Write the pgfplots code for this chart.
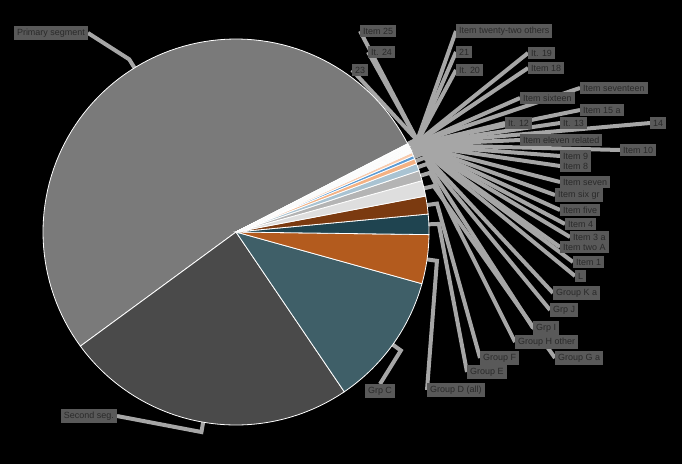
\documentclass[border=0pt]{standalone}
\usepackage{fontspec}
\setmainfont{Liberation Sans}
\usepackage{pgfplots}
\usepackage{pgfplotstable}
\pgfplotsset{compat=1.18}
\definecolor{cBig}{HTML}{7A7A7A}
\definecolor{cDark}{HTML}{4A4A4A}
\definecolor{cTeal}{HTML}{3F5F68}
\definecolor{cOrange}{HTML}{B35B1E}
\definecolor{cDTeal}{HTML}{1F4450}
\definecolor{cBrown}{HTML}{7B3A10}
\definecolor{cLGray}{HTML}{DEDEDE}
\definecolor{cGray}{HTML}{B4B4B4}
\definecolor{cLBlue}{HTML}{A9C3D2}
\definecolor{cPeach}{HTML}{F4B183}
\definecolor{cBlue}{HTML}{5B9BD5}
\definecolor{cPeachB}{HTML}{F8CBAD}
\definecolor{tA}{HTML}{E7E6E6}
\definecolor{tB}{HTML}{9DC3E6}
\definecolor{tC}{HTML}{C9C9C9}
\definecolor{tD}{HTML}{FFE699}
\definecolor{tE}{HTML}{BDD7EE}
\definecolor{leadc}{HTML}{A6A6A6}
\definecolor{labfill}{HTML}{595959}
\definecolor{labtext}{HTML}{2A2A2A}
\newcommand\labfont{\fontsize{9}{10}\selectfont}
\pgfplotstableread[col sep=comma]{
val,col,lx,ly,anc,lab
52.5,cBig,88,33,east,Primary segment
24.4,cDark,117,416,east,Second seg.
11.2,cTeal,380,384,north,Grp C
4.1,cOrange,427,390,west,Group D (all)
1.7,cDTeal,467,372,west,Group E
1.5,cBrown,480,358,west,Group F
1.3,cLGray,555,358,west,Group G a
0.86,cGray,515,342,west,Group H other
0.61,cLBlue,533,328,west,Grp I
0.44,cPeach,550,310,west,Grp J
0.28,cBlue,553,293,west,Group K a
0.28,cPeachB,575,276,west,L
0.032,tA,573,262,west,Item 1
0.032,tB,560,247,west,Item two A
0.032,tC,570,237,west,Item 3 a
0.032,tD,565,224,west,Item 4
0.032,tE,560,210,west,Item five
0.032,tA,555,195,west,Item six gr
0.032,tB,560,182,west,Item seven
0.032,tC,560,166,west,Item 8
0.032,tD,560,156,west,Item 9
0.032,tE,620,150,west,Item 10
0.032,tA,520,140,west,Item eleven related
0.032,tB,505,123,west,It. 12
0.032,tC,560,123,west,It. 13
0.032,tD,650,123,west,14
0.032,tE,580,110,west,Item 15 a
0.032,tA,520,98,west,Item sixteen
0.032,tB,580,88,west,Item seventeen
0.032,tC,528,68,west,Item 18
0.032,tD,528,53,west,It. 19
0.032,tE,456,70,west,It. 20
0.032,tA,456,52,west,21
0.032,tB,456,31,west,Item twenty-two others
0.032,tC,352,70,west,23
0.032,tD,368,52,west,It. 24
0.032,tE,360,31,west,Item 25
}\slices
% cumulative angles (degrees) from the values in the table
\gdef\myTot{0}%
\foreach \k in {0,...,36} {%
  \pgfplotstablegetelem{\k}{val}\of\slices
  \pgfmathparse{\myTot+\pgfplotsretval}%
  \xdef\myTot{\pgfmathresult}%
}%
\gdef\myCur{27.2}%
\foreach \k in {0,...,36} {%
  \pgfplotstablegetelem{\k}{val}\of\slices
  \pgfmathparse{\myCur+(\pgfplotsretval/\myTot)*360}%
  \xdef\myNxt{\pgfmathresult}%
  \expandafter\xdef\csname myA\k\endcsname{\myCur}%
  \expandafter\xdef\csname myB\k\endcsname{\myNxt}%
  \xdef\myCur{\myNxt}%
}%
\begin{document}%
\begin{tikzpicture}
\fill[black] (0,0) rectangle (682bp,464bp);
\begin{axis}[at={(0,0)},anchor=south west,scale only axis,
  width=682bp,height=464bp,xmin=0,xmax=682,ymin=0,ymax=464,
  y dir=reverse,hide axis,clip=false]
% leader lines
\pgfplotsforeachungrouped \k in {0,...,36} {%
  \pgfplotstablegetelem{\k}{lx}\of\slices \let\myLx\pgfplotsretval
  \pgfplotstablegetelem{\k}{ly}\of\slices \let\myLy\pgfplotsretval
  \pgfmathsetmacro\myM{(\csname myA\k\endcsname+\csname myB\k\endcsname)/2}%
  \pgfmathsetmacro\myEx{236+193*cos(\myM)}%
  \pgfmathsetmacro\myEy{232-193*sin(\myM)}%
  \pgfmathsetmacro\myKx{236+203*cos(\myM)}%
  \pgfmathsetmacro\myKy{232-203*sin(\myM)}%
  \edef\myTmp{\noexpand\addplot[draw=leadc,line width=4bp] coordinates {(\myEx,\myEy) (\myKx,\myKy) (\myLx,\myLy)};}%
  \myTmp
}
% slices
\pgfplotsforeachungrouped \k in {0,...,36} {%
  \pgfplotstablegetelem{\k}{col}\of\slices \let\myC\pgfplotsretval
  \edef\myA{\csname myA\k\endcsname}%
  \edef\myB{\csname myB\k\endcsname}%
  \edef\myTmp{\noexpand\addplot[draw=white,line width=0.8bp,fill=\myC,domain=\myA:\myB,samples=90] ({236+193*cos(x)},{232-193*sin(x)}) -- (axis cs:236,232) -- cycle;}%
  \myTmp
}
% labels
\pgfplotsforeachungrouped \k in {0,...,36} {%
  \pgfplotstablegetelem{\k}{lx}\of\slices \let\myLx\pgfplotsretval
  \pgfplotstablegetelem{\k}{ly}\of\slices \let\myLy\pgfplotsretval
  \pgfplotstablegetelem{\k}{anc}\of\slices \let\myAn\pgfplotsretval
  \pgfplotstablegetelem{\k}{lab}\of\slices \let\myLb\pgfplotsretval
  \edef\myTmp{\noexpand\node[anchor=\myAn,fill=labfill,text=labtext,inner sep=3bp,font=\noexpand\labfont] at (axis cs:\myLx,\myLy) {\myLb};}%
  \myTmp
}
\end{axis}
\end{tikzpicture}%
\end{document}
